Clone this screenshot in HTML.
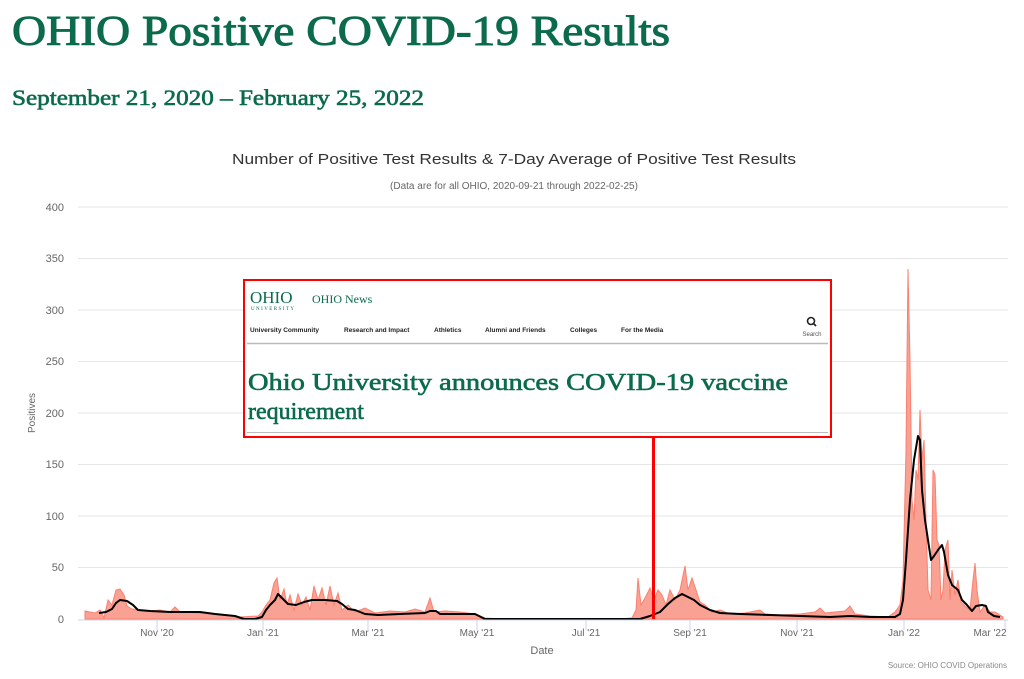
<!DOCTYPE html>
<html><head><meta charset="utf-8"><style>
html,body{margin:0;padding:0;background:#fff;}
svg{display:block;}
</style></head><body>
<svg width="1024" height="679" viewBox="0 0 1024 679" xmlns="http://www.w3.org/2000/svg">
<text x="12" y="45" font-family="Liberation Serif, serif" font-size="42" fill="#0b6b4b" stroke="#0b6b4b" stroke-width="1" textLength="658" lengthAdjust="spacingAndGlyphs">OHIO Positive COVID-19 Results</text>
<text x="12" y="105" font-family="Liberation Serif, serif" font-size="22" fill="#0b6b4b" stroke="#0b6b4b" stroke-width="0.6" textLength="412" lengthAdjust="spacingAndGlyphs">September 21, 2020 – February 25, 2022</text>
<text x="514" y="164" text-anchor="middle" font-family="Liberation Sans, sans-serif" font-size="15" fill="#333" textLength="564" lengthAdjust="spacingAndGlyphs">Number of Positive Test Results &amp; 7-Day Average of Positive Test Results</text>
<text x="514" y="189" text-anchor="middle" font-family="Liberation Sans, sans-serif" font-size="10" fill="#666">(Data are for all OHIO, 2020-09-21 through 2022-02-25)</text>
<g stroke="#e6e6e6" stroke-width="1">
<line x1="78" y1="207" x2="1008" y2="207"/><line x1="78" y1="258.5" x2="1008" y2="258.5"/>
<line x1="78" y1="310" x2="1008" y2="310"/><line x1="78" y1="361.5" x2="1008" y2="361.5"/>
<line x1="78" y1="413" x2="1008" y2="413"/><line x1="78" y1="464.5" x2="1008" y2="464.5"/>
<line x1="78" y1="516" x2="1008" y2="516"/><line x1="78" y1="567.5" x2="1008" y2="567.5"/>
</g>
<g font-family="Liberation Sans, sans-serif" font-size="11" fill="#666" text-anchor="end">
<text x="64" y="211">400</text><text x="64" y="262">350</text><text x="64" y="314">300</text><text x="64" y="365">250</text><text x="64" y="417">200</text><text x="64" y="468">150</text><text x="64" y="520">100</text><text x="64" y="571">50</text><text x="64" y="623">0</text>
</g>
<text transform="translate(35,413) rotate(-90)" text-anchor="middle" font-family="Liberation Sans, sans-serif" font-size="10" fill="#666">Positives</text>
<path fill="#f9a193" stroke="#fa8070" stroke-width="1" d="M85,619 L85,611 L95,613 L100,610 L104,618 L108,600 L112,605 L116,590 L120,589 L124,595 L127,606 L132,609 L140,610 L150,611 L160,610 L170,612 L175,607 L180,612 L200,613 L220,614 L240,617 L258,616 L262,612 L266,605 L270,600 L274,583 L277,578 L280,600 L284,589 L287,605 L290,595 L294,610 L298,594 L302,605 L306,597 L310,610 L314,586 L318,600 L322,588 L326,605 L330,586 L334,605 L338,593 L342,610 L348,605 L355,612 L365,608 L375,613 L390,611 L405,612 L415,609 L425,612 L430,598 L434,612 L445,611 L460,612 L475,614 L485,618 L500,619 L620,619 L632,618 L636,610 L638,578 L641,605 L645,598 L650,588 L654,600 L658,590 L662,595 L666,605 L670,590 L675,600 L680,590 L685,566 L688,590 L692,578 L696,590 L700,602 L705,605 L712,612 L720,610 L730,614 L745,613 L760,610 L765,614 L780,615 L800,614 L815,612 L820,608 L825,613 L835,612 L845,611 L850,606 L855,614 L870,616 L888,617 L895,612 L900,605 L903,580 L906,450 L908,269 L910,360 L912,500 L914,520 L916,470 L918,480 L920,410 L922,460 L924,440 L926,520 L928,590 L931,600 L933,470 L935,475 L937,540 L939,545 L941,600 L943,590 L945,550 L948,540 L950,600 L952,570 L955,595 L958,580 L961,602 L965,606 L970,610 L973,580 L975,563 L977,590 L980,612 L985,605 L990,612 L995,612 L1003,617 L1003,619 Z"/>
<path fill="none" stroke="#000" stroke-width="2" stroke-linejoin="round" d="M99,613 L106,612 L112,609 L116,603 L120,600 L127,601 L133,605 L138,610 L150,611 L170,612 L200,612 L215,614 L235,616 L244,619 L255,619 L262,617 L266,610 L270,605 L275,600 L278,594 L282,598 L288,604 L296,605 L304,602 L312,600 L325,600 L337,601 L342,604 L348,609 L355,610 L365,614 L378,615 L400,614 L425,613 L430,611 L436,611 L440,614 L460,614 L475,614 L485,619 L640,619 L650,616 L660,612 L668,604 L675,598 L682,594 L688,597 L694,600 L700,605 L710,610 L720,613 L740,614 L770,615 L800,616 L830,617 L850,616 L870,617 L895,617 L900,614 L903,600 L906,560 L910,500 L914,460 L918,436 L920,440 L922,490 L925,520 L928,540 L931,560 L934,556 L938,550 L942,545 L944,552 L948,575 L952,585 L958,590 L962,600 L967,605 L972,611 L976,606 L982,605 L986,606 L988,612 L994,616 L1000,617"/>
<line x1="78" y1="620" x2="1008" y2="620" stroke="#ccd6eb" stroke-width="1"/>
<g stroke="#ccd6eb"><line x1="157" y1="620" x2="157" y2="630"/><line x1="263" y1="620" x2="263" y2="630"/><line x1="368" y1="620" x2="368" y2="630"/><line x1="477" y1="620" x2="477" y2="630"/><line x1="586" y1="620" x2="586" y2="630"/><line x1="690" y1="620" x2="690" y2="630"/><line x1="797" y1="620" x2="797" y2="630"/><line x1="904" y1="620" x2="904" y2="630"/><line x1="1005" y1="620" x2="1005" y2="630"/></g>
<g font-family="Liberation Sans, sans-serif" font-size="10" fill="#666" text-anchor="middle">
<text x="157" y="636">Nov '20</text><text x="263" y="636">Jan '21</text><text x="368" y="636">Mar '21</text><text x="477" y="636">May '21</text><text x="586" y="636">Jul '21</text><text x="690" y="636">Sep '21</text><text x="797" y="636">Nov '21</text><text x="904" y="636">Jan '22</text><text x="990" y="636">Mar '22</text>
</g>
<text x="542" y="654" text-anchor="middle" font-family="Liberation Sans, sans-serif" font-size="11" fill="#666">Date</text>
<text x="1007" y="668" text-anchor="end" font-family="Liberation Sans, sans-serif" font-size="8" fill="#888">Source: OHIO COVID Operations</text>
<line x1="653.5" y1="437" x2="653.5" y2="619" stroke="#f00" stroke-width="3"/>
<rect x="244" y="280" width="587" height="157" fill="#fff" stroke="#f00" stroke-width="2"/>
<text x="250" y="303" font-family="Liberation Serif, serif" font-size="17" fill="#0b6b4b">OHIO</text>
<text x="251" y="310" font-family="Liberation Serif, serif" font-size="5" fill="#0b6b4b" textLength="43">UNIVERSITY</text>
<text x="312" y="303" font-family="Liberation Serif, serif" font-size="12" fill="#0b6b4b">OHIO News</text>
<g font-family="Liberation Sans, sans-serif" font-size="6.5" font-weight="bold" fill="#222">
<text x="250" y="332">University Community</text><text x="344" y="332">Research and Impact</text><text x="434" y="332">Athletics</text><text x="485" y="332">Alumni and Friends</text><text x="570" y="332">Colleges</text><text x="621" y="332">For the Media</text>
</g>
<circle cx="811" cy="321" r="3.5" fill="none" stroke="#222" stroke-width="1.6"/><line x1="813.5" y1="323.5" x2="816" y2="326" stroke="#222" stroke-width="1.8"/>
<text x="812" y="336" text-anchor="middle" font-family="Liberation Sans, sans-serif" font-size="6" fill="#555">Search</text>
<line x1="247" y1="343.5" x2="828" y2="343.5" stroke="#bbb" stroke-width="1.5"/>
<text x="248" y="390" font-family="Liberation Serif, serif" font-size="24" fill="#0b6b4b" stroke="#0b6b4b" stroke-width="0.6" textLength="540" lengthAdjust="spacingAndGlyphs">Ohio University announces COVID-19 vaccine</text>
<text x="248" y="419" font-family="Liberation Serif, serif" font-size="24" fill="#0b6b4b" stroke="#0b6b4b" stroke-width="0.6">requirement</text>
<line x1="247" y1="432.5" x2="828" y2="432.5" stroke="#bbb" stroke-width="1"/>
</svg>
</body></html>
